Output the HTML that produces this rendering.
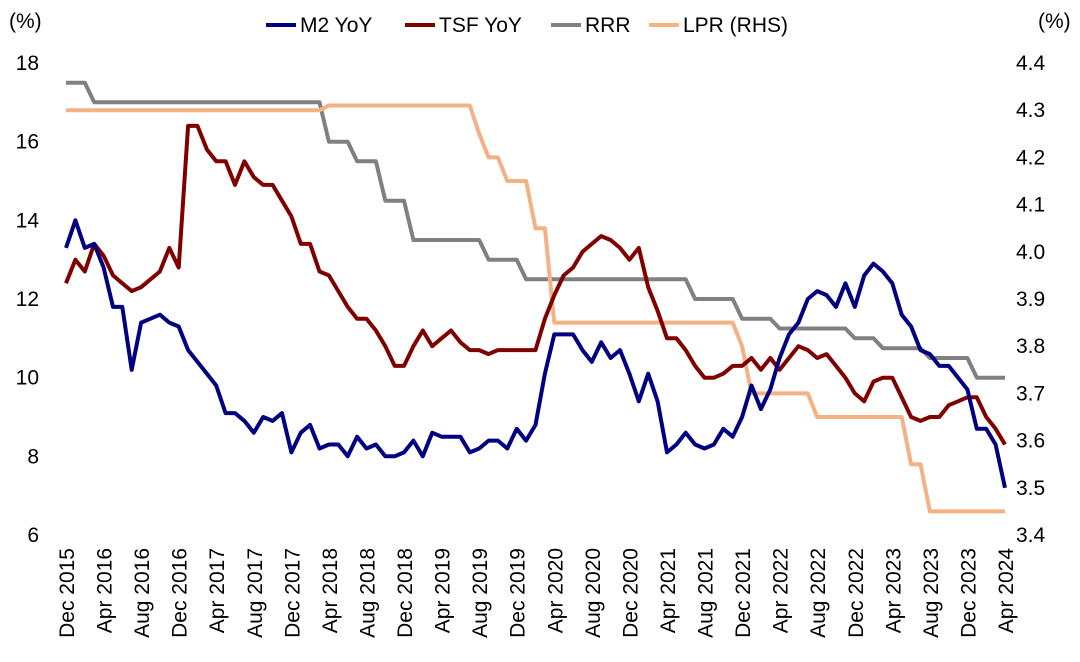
<!DOCTYPE html>
<html><head><meta charset="utf-8"><style>
body{margin:0;background:#fff;}
svg{display:block;font-family:"Liberation Sans",sans-serif;}
</style></head><body>
<svg id="chart" width="1080" height="662" viewBox="0 0 1080 662" xmlns="http://www.w3.org/2000/svg"></svg>
<script>
const m2 = [13.3,
14.0,13.3,13.4,12.8,11.8,11.8,10.2,11.4,11.5,11.6,11.4,11.3,
10.7,10.4,10.1,9.8,9.1,9.1,8.9,8.6,9.0,8.9,9.1,8.1,
8.6,8.8,8.2,8.3,8.3,8.0,8.5,8.2,8.3,8.0,8.0,8.1,
8.4,8.0,8.6,8.5,8.5,8.5,8.1,8.2,8.4,8.4,8.2,8.7,
8.4,8.8,10.1,11.1,11.1,11.1,10.7,10.4,10.9,10.5,10.7,10.1,
9.4,10.1,9.4,8.1,8.3,8.6,8.3,8.2,8.3,8.7,8.5,9.0,
9.8,9.2,9.7,10.5,11.1,11.4,12.0,12.2,12.1,11.8,12.4,11.8,
12.6,12.9,12.7,12.4,11.6,11.3,10.7,10.6,10.3,10.3,10.0,9.7,
8.7,8.7,8.3,7.2];
const tsf = [12.4,
13.0,12.7,13.4,13.1,12.6,12.4,12.2,12.3,12.5,12.7,13.3,12.8,
16.4,16.4,15.8,15.5,15.5,14.9,15.5,15.1,14.9,14.9,14.5,14.1,
13.4,13.4,12.7,12.6,12.2,11.8,11.5,11.5,11.2,10.8,10.3,10.3,
10.8,11.2,10.8,11.0,11.2,10.9,10.7,10.7,10.6,10.7,10.7,10.7,
10.7,10.7,11.5,12.1,12.6,12.8,13.2,13.4,13.6,13.5,13.3,13.0,
13.3,12.3,11.7,11.0,11.0,10.7,10.3,10.0,10.0,10.1,10.3,10.3,
10.5,10.2,10.5,10.2,10.5,10.8,10.7,10.5,10.6,10.3,10.0,9.6,
9.4,9.9,10.0,10.0,9.5,9.0,8.9,9.0,9.0,9.3,9.4,9.5,
9.5,9.0,8.7,8.3];
const rrr = [17.5,17.5,17.5,
17,17,17,17,17,17,17,17,17,17,17,17,17,17,17,17,17,17,17,17,17,17,17,17,17,
16,16,16,15.5,15.5,15.5,14.5,14.5,14.5,
13.5,13.5,13.5,13.5,13.5,13.5,13.5,13.5,13,13,13,13,
12.5,12.5,12.5,12.5,12.5,12.5,12.5,12.5,12.5,12.5,12.5,12.5,12.5,12.5,12.5,12.5,12.5,12.5,
12,12,12,12,12,11.5,11.5,11.5,11.5,
11.25,11.25,11.25,11.25,11.25,11.25,11.25,11.25,11,11,11,
10.75,10.75,10.75,10.75,10.75,10.5,10.5,10.5,10.5,10.5,10,10,10,10];
const lpr = [4.3,4.3,4.3,4.3,4.3,4.3,4.3,4.3,4.3,4.3,4.3,4.3,4.3,4.3,4.3,4.3,4.3,4.3,4.3,4.3,4.3,4.3,4.3,4.3,4.3,4.3,4.3,4.3,
4.31,4.31,4.31,4.31,4.31,4.31,4.31,4.31,4.31,4.31,4.31,4.31,4.31,4.31,4.31,4.31,
4.25,4.2,4.2,4.15,4.15,4.15,4.05,4.05,
3.85,3.85,3.85,3.85,3.85,3.85,3.85,3.85,3.85,3.85,3.85,3.85,3.85,3.85,3.85,3.85,3.85,3.85,3.85,3.85,
3.8,3.7,3.7,3.7,3.7,3.7,3.7,3.7,
3.65,3.65,3.65,3.65,3.65,3.65,3.65,3.65,3.65,3.65,
3.55,3.55,3.45,3.45,3.45,3.45,3.45,3.45,3.45,3.45,3.45];
const leftTicks = [6,8,10,12,14,16,18];
const rightTicks = ["3.4","3.5","3.6","3.7","3.8","3.9","4.0","4.1","4.2","4.3","4.4"];
const monthNames = ["Dec","Apr","Aug"];
const startYear = 2015;

const NS="http://www.w3.org/2000/svg";
const svg=document.getElementById('chart');
const X0=66, DX=9.39;
const x=i=>X0+DX*i;
const yL=v=>535-(v-6)*(472/12);
const yR=v=>535-(v-3.4)*472;
const FS=21;
function mk(tag,attrs,parent){const e=document.createElementNS(NS,tag);for(const k in attrs)e.setAttribute(k,attrs[k]);(parent||svg).appendChild(e);return e;}

leftTicks.forEach(v=>{const t=mk('text',{x:39,y:yL(v)+7,'text-anchor':'end','font-size':FS,fill:'#000'});t.textContent=v;

});
rightTicks.forEach(s=>{const t=mk('text',{x:1016,y:yR(parseFloat(s))+7,'font-size':FS,fill:'#000'});t.textContent=s;

});
let t1=mk('text',{x:9,y:28,'font-size':FS});t1.textContent='(%)';


let t2=mk('text',{x:1038,y:28,'font-size':FS});t2.textContent='(%)';



for(let i=0;i<=100;i+=4){
  const mi=(i/4)%3; const yr=startYear+Math.ceil(i/12);
  const lab=monthNames[mi]+' '+(mi===0?startYear+i/12:yr);
  const xx=x(i)+8;
  const t=mk('text',{x:0,y:0,'font-size':FS,'text-anchor':'end',transform:`translate(${xx},548) rotate(-90)`});
  t.textContent=lab;
  
  
}

function line(arr,yf,color,name){
  const d=arr.map((v,i)=>(i?'L':'M')+x(i).toFixed(1)+','+yf(v).toFixed(1)).join(' ');
  const p=mk('path',{d,fill:'none',stroke:color,'stroke-width':4,'stroke-linejoin':'round'});
  
  
}
line(rrr,yL,'#808080','rrr-line');
line(lpr,yR,'#f4b183','lpr-line');
line(tsf,yL,'#800000','tsf-line');
line(m2,yL,'#000080','m2-line');

const leg=[['M2 YoY','#000080',266],['TSF YoY','#800000',405],['RRR','#808080',551],['LPR (RHS)','#f4b183',649]];
leg.forEach(([n,c,lx])=>{
  const g=mk('g',{});
  
  
  mk('line',{x1:lx,y1:25,x2:lx+30,y2:25,stroke:c,'stroke-width':4},g);
  const t=mk('text',{x:lx+34,y:32,'font-size':FS},g);t.textContent=n;
});
</script>
</body></html>
